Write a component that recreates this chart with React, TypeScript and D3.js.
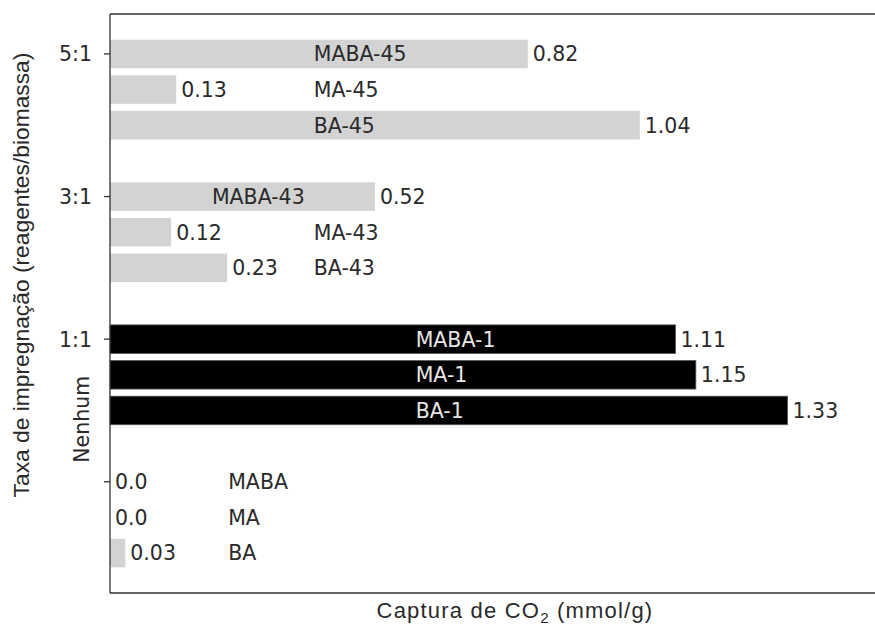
import React from "react";
import * as d3 from "d3";

// Data
const groups = ["Nenhum", "1:1", "3:1", "5:1"];
const sampleNames = [
  ["MABA", "MA", "BA"],
  ["MABA-1", "MA-1", "BA-1"],
  ["MABA-43", "MA-43", "BA-43"],
  ["MABA-45", "MA-45", "BA-45"],
];
const captureValues = [
  [0.0, 0.0, 0.03],
  [1.11, 1.15, 1.33],
  [0.52, 0.12, 0.23],
  [0.82, 0.13, 1.04],
];
const valueLabels = [
  ["0.0", "0.0", "0.03"],
  ["1.11", "1.15", "1.33"],
  ["0.52", "0.12", "0.23"],
  ["0.82", "0.13", "1.04"],
];
// annotation x (data units) for the sample name labels
const nameAt = [
  [0.232, 0.232, 0.232],
  [0.6, 0.6, 0.6],
  [0.2, 0.4, 0.4],
  [0.4, 0.4, 0.4],
];
const highlightGroup = "1:1";
const barOffsets = [0, -0.25, -0.5];
const barHeight = 0.2;

const W = 875;
const H = 631;
const left = 110;
const right = 920;
const top = 14;
const bottom = 593;

export default function App() {
  const x = d3.scaleLinear().domain([0, 1.59]).range([left, right]);
  const y = d3.scaleLinear().domain([-0.78, 3.28]).range([bottom, top]);
  const fontMain = "'DejaVu Sans', sans-serif";
  const fontLabel = "'Liberation Sans', Arial, sans-serif";
  const txt = "#2a2a2a";
  const fs = 20.5;
  const bh = Math.abs(y(0) - y(barHeight));

  const bars: any[] = [];
  groups.forEach((g, gi) => {
    captureValues[gi].forEach((v, bi) => {
      const yc = y(gi + barOffsets[bi]);
      const dark = g === highlightGroup;
      bars.push(
        <g key={`${gi}-${bi}`}>
          {v > 0 && (
            <rect
              x={x(0)}
              y={yc - bh / 2}
              width={x(v) - x(0)}
              height={bh}
              fill={dark ? "#000" : "#d3d3d3"}
              stroke={dark ? "#555" : "none"}
              strokeWidth={dark ? 0.8 : 0}
            />
          )}
          <text x={x(v) + 5} y={yc} dy="0.36em" fontFamily={fontMain} fontSize={fs} fill={txt}>
            {valueLabels[gi][bi]}
          </text>
          <text
            x={x(nameAt[gi][bi])}
            y={yc}
            dy="0.36em"
            fontFamily={fontMain}
            fontSize={fs}
            fill={dark ? "#e6e6e6" : txt}
          >
            {sampleNames[gi][bi]}
          </text>
        </g>
      );
    });
  });

  return (
    <svg width={W} height={H} overflow="hidden" style={{ position: "absolute", left: 0, top: 0 }}>
      <rect x={0} y={0} width={W} height={H} fill="#fff" />
      {bars}
      {/* spines */}
      <line x1={left} x2={left} y1={top} y2={bottom} stroke="#333" strokeWidth={1.3} />
      <line x1={left} x2={right} y1={top} y2={top} stroke="#333" strokeWidth={1.3} />
      <line x1={left} x2={right} y1={bottom} y2={bottom} stroke="#333" strokeWidth={1.3} />
      {/* y ticks */}
      {groups.map((g, gi) => (
        <g key={g}>
          <line x1={left - 6} x2={left} y1={y(gi)} y2={y(gi)} stroke="#333" strokeWidth={1.3} />
          {g === "Nenhum" ? (
            <text
              transform={`translate(89, ${y(gi) - 19}) rotate(-90)`}
              textAnchor="start"
              fontFamily={fontMain}
              fontSize={fs}
              fill={txt}
            >
              {g}
            </text>
          ) : (
            <text
              x={92}
              y={y(gi)}
              dy="0.36em"
              textAnchor="end"
              fontFamily={fontMain}
              fontSize={fs}
              fill={txt}
            >
              {g}
            </text>
          )}
        </g>
      ))}
      {/* axis labels */}
      <text
        transform={`translate(29, 275) rotate(-90)`}
        textAnchor="middle"
        fontFamily={fontLabel}
        fontSize={22.8}
        fill={txt}
      >
        Taxa de impregnação (reagentes/biomassa)
      </text>
      <text
        x={515}
        y={618}
        textAnchor="middle"
        fontFamily={fontLabel}
        fontSize={22}
        letterSpacing={1.2}
        fill={txt}
      >
        Captura de CO
        <tspan fontSize={15} dy={5}>2</tspan>
        <tspan dy={-5}> (mmol/g)</tspan>
      </text>
    </svg>
  );
}
